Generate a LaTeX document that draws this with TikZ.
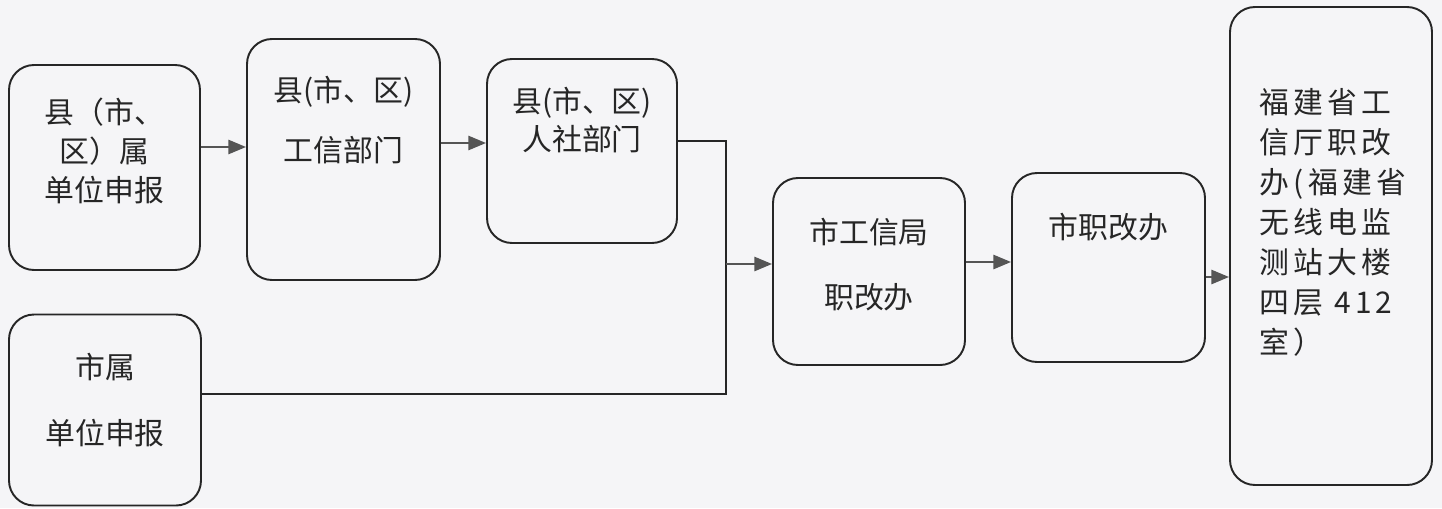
\documentclass[tikz,border=0pt]{standalone}
\usepackage{fontspec}
\newfontfamily\cjk{Noto Sans CJK SC}
\newfontfamily\cjkwide[LetterSpace=14]{Noto Sans CJK SC}
\usetikzlibrary{arrows.meta}
\definecolor{paper}{RGB}{245,245,247}
\definecolor{ink}{RGB}{38,38,38}
\definecolor{wire}{RGB}{85,85,85}
\begin{document}
\begin{tikzpicture}[
    box/.style={draw=ink, line width=1.1pt, rounded corners=0.5cm, inner sep=0pt},
    txt/.style={text=ink, align=center, font=\cjk\fontsize{17}{22}\selectfont},
    arr/.style={draw=wire, line width=1.3pt, -{Triangle[length=10pt,width=8pt]}},
    wire/.style={draw=ink, line width=1.1pt}
  ]
  \fill[paper] (0,0) rectangle (28.84,-10.16);

  \node[box, minimum width=3.82cm, minimum height=4.10cm] (unitA) at (2.09,-3.35) {};
  \node[box, minimum width=3.86cm, minimum height=4.82cm] (deptA) at (6.87,-3.19) {};
  \node[box, minimum width=3.80cm, minimum height=3.68cm] (deptB) at (11.64,-3.02) {};
  \node[box, minimum width=3.84cm, minimum height=3.74cm] (cityA) at (17.38,-5.43) {};
  \node[box, minimum width=3.86cm, minimum height=3.78cm] (cityB) at (22.17,-5.35) {};
  \node[box, minimum width=4.04cm, minimum height=9.56cm] (prov) at (26.62,-4.92) {};
  \node[box, minimum width=3.84cm, minimum height=3.82cm] (cityUnit) at (2.10,-8.20) {};

  \node[txt] (unitAtext) at (2.09,-3.02) {县（市、\\区）属\\单位申报};
  \node[txt] (deptAtext) at (6.87,-2.40) {县(市、区)\\[0.42cm]工信部门};
  \node[txt] (deptBtext) at (11.64,-2.40) {县(市、区)\\人社部门};
  \node[txt] (cityAtext) at (17.38,-5.29) {市工信局\\[0.52cm]职改办};
  \node[txt] (cityBtext) at (22.17,-4.54) {市职改办};
  \node[txt, align=left, font=\cjkwide\fontsize{17}{22.7}\selectfont] (provtext) at (26.66,-4.45)
    {福建省工\\信厅职改\\办(福建省\\无线电监\\测站大楼\\四层\hspace{0.35em}412\\室）};
  \node[txt] (cityUnittext) at (2.10,-8.00) {市属\\[0.54cm]单位申报};

  \coordinate (rowA) at (0,-2.94);
  \coordinate (rowB) at (0,-2.86);
  \coordinate (rowC) at (0,-2.82);
  \coordinate (rowD) at (0,-7.88);
  \coordinate (rowE) at (0,-5.24);
  \coordinate (rowF) at (0,-5.54);
  \coordinate (merge) at (14.52,-5.28);

  \draw[arr] (unitA.east |- rowA) -- (deptA.west |- rowA);
  \draw[arr] (deptA.east |- rowB) -- (deptB.west |- rowB);
  \draw[wire] (deptB.east |- rowC) -| (merge) |- (cityUnit.east |- rowD);
  \draw[arr] (merge) -- (cityA.west |- merge);
  \draw[arr] (cityA.east |- rowE) -- (cityB.west |- rowE);
  \draw[arr] (cityB.east |- rowF) -- (prov.west |- rowF);
\end{tikzpicture}
\end{document}
